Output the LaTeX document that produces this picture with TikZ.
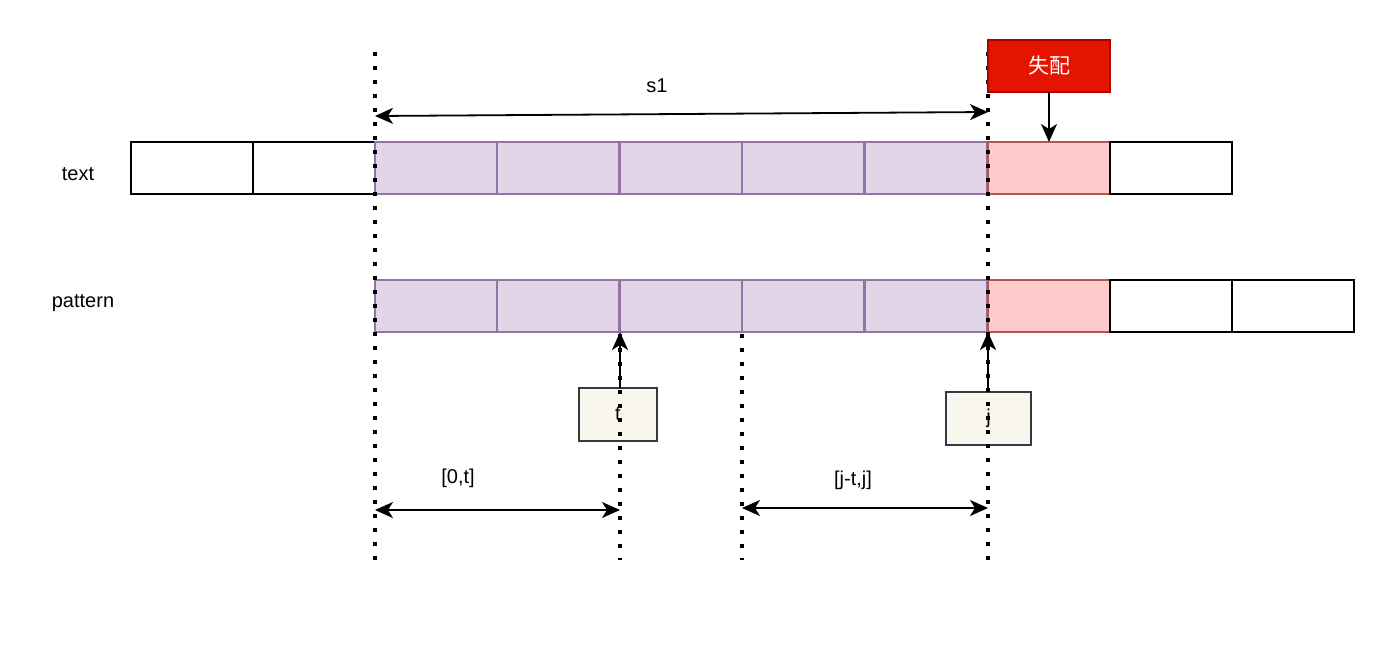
\documentclass[tikz,border=0pt]{standalone}
\usepackage{fontspec}
\setmainfont{Liberation Sans}
\newfontfamily\cjk{Noto Sans CJK SC}
\usetikzlibrary{arrows.meta}
\definecolor{purplefill}{HTML}{E1D5E7}
\definecolor{purpleline}{HTML}{9673A6}
\definecolor{pinkfill}{HTML}{FFCCCC}
\definecolor{pinkline}{HTML}{B85450}
\definecolor{redfill}{HTML}{E51400}
\definecolor{redline}{HTML}{B20000}
\definecolor{notefill}{HTML}{F9F7ED}
\definecolor{noteline}{HTML}{36393D}
\tikzset{
  cell/.style={draw=black, line width=1.5pt, fill=white, minimum width=122pt, minimum height=52pt, inner sep=0pt, outer sep=0pt},
  pcell/.style={cell, draw=purpleline, fill=purplefill},
  rcell/.style={cell, draw=pinkline, fill=pinkfill},
  lbl/.style={font=\fontsize{20}{24}\selectfont, inner sep=0pt},
  note/.style={draw=noteline, line width=1.5pt, fill=notefill, inner sep=0pt, outer sep=0pt, font=\fontsize{20}{24}\selectfont},
  dotline/.style={line width=3.5pt, dash pattern=on 3.5pt off 10.5pt},
  arr/.style={line width=1.8pt, -{Stealth[length=18pt,width=16pt,inset=5pt]}},
  darr/.style={line width=1.8pt, {Stealth[length=18pt,width=16pt,inset=5pt]}-{Stealth[length=18pt,width=16pt,inset=5pt]}},
}
\begin{document}
\begin{tikzpicture}[x=1pt,y=-1pt]
\useasboundingbox (0,0) rectangle (1397,646);
% text row
\node[cell,anchor=north west] (t1) at (131,142) {};
\node[cell,anchor=north west] (t2) at (253,142) {};
\node[pcell,anchor=north west] (t3) at (375,142) {};
\node[pcell,anchor=north west] (t4) at (497,142) {};
\node[pcell,anchor=north west] (t5) at (620,142) {};
\node[pcell,anchor=north west] (t6) at (742,142) {};
\node[pcell,anchor=north west] (t7) at (865,142) {};
\node[rcell,anchor=north west] (t8) at (988,142) {};
\node[cell,anchor=north west] (t9) at (1110,142) {};
% pattern row
\node[pcell,anchor=north west] (p1) at (375,280) {};
\node[pcell,anchor=north west] (p2) at (497,280) {};
\node[pcell,anchor=north west] (p3) at (620,280) {};
\node[pcell,anchor=north west] (p4) at (742,280) {};
\node[pcell,anchor=north west] (p5) at (865,280) {};
\node[rcell,anchor=north west] (p6) at (988,280) {};
\node[cell,anchor=north west] (p7) at (1110,280) {};
\node[cell,anchor=north west] (p8) at (1232,280) {};
% row labels
\node[lbl] (ltext) at (78,174) {text};
\node[lbl] (lpat) at (83,303) {pattern};
% t and j notes
\node[note, minimum width=78pt, minimum height=53pt, anchor=north west] (nt) at (579,388) {t};
\node[note, minimum width=85pt, minimum height=53pt, anchor=north west] (nj) at (946,392) {j};
% dotted lines
\coordinate (d1a) at (375,52);  \coordinate (d1b) at (375,560);
\coordinate (d2a) at (988,52);  \coordinate (d2b) at (988,560);
\coordinate (d3a) at (620,334); \coordinate (d3b) at (620,560);
\coordinate (d4a) at (742,334); \coordinate (d4b) at (742,560);
\draw[dotline] (d1a) -- (d1b);
\draw[dotline] (d2a) -- (d2b);
\draw[dotline] (d3a) -- (d3b);
\draw[dotline] (d4a) -- (d4b);
% mismatch box
\node[draw=redline, line width=1.2pt, fill=redfill, minimum width=122pt, minimum height=52pt, inner sep=0pt, outer sep=0pt, anchor=north west, text=white, font=\cjk\fontsize{21}{24}\selectfont] (mis) at (988,40) {失配};
\draw[arr] (mis.south) -- (mis.south |- t8.north);
% s1
\coordinate (s1a) at (375,116);
\coordinate (s1b) at (988,112);
\draw[darr] (s1a) -- (s1b);
\node[lbl] (s1) at (657,86) {s1};
% note arrows
\draw[arr] (nt.north -| p3.south west) -- (p3.south west);
\draw[arr] (nj.north -| p6.south west) -- (p6.south west);
% ranges
\coordinate (r1a) at (375,510); \coordinate (r1b) at (620,510);
\coordinate (r2a) at (742,508); \coordinate (r2b) at (988,508);
\draw[darr] (r1a) -- (r1b);
\draw[darr] (r2a) -- (r2b);
\node[lbl] (l0t) at (458,478) {[0,t]};
\node[lbl] (ljt) at (853,480) {[j-t,j]};
\end{tikzpicture}
\end{document}
